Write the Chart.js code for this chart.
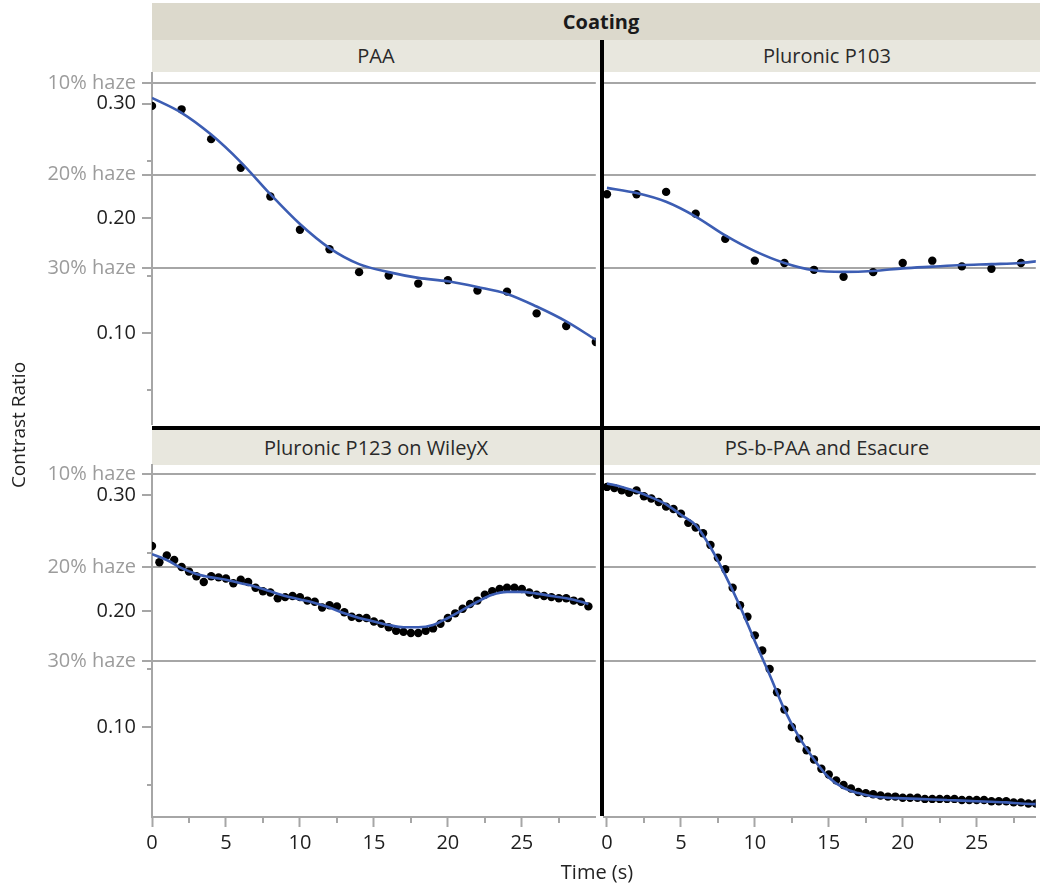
<!DOCTYPE html>
<html>
<head>
<meta charset="utf-8">
<script src="https://cdn.jsdelivr.net/npm/chart.js@4.4.1/dist/chart.umd.min.js"></script>
<style>
  body { margin: 0; background: #fff; font-family: 'Open Sans', sans-serif; color: #222; }
  #wrap { position: relative; width: 1040px; height: 888px; overflow: hidden; }
  .band { position: absolute; text-align: center; font-size: 20px; color: #2a2a2a; }
  .abs { position: absolute; }
  canvas { position: absolute; }
</style>
</head>
<body>
<div id="wrap">
  <div class="band" style="left:152px;top:3px;width:898px;height:37px;line-height:37px;background:#dcd9cc;font-weight:bold;color:#1a1a1a;">Coating</div>
  <div class="band" style="left:152px;top:40px;width:448px;height:32px;line-height:32px;background:#e8e7de;">PAA</div>
  <div class="band" style="left:604px;top:40px;width:446px;height:32px;line-height:32px;background:#e8e7de;">Pluronic P103</div>
  <div class="band" style="left:152px;top:430px;width:448px;height:35px;line-height:35px;background:#e8e7de;">Pluronic P123 on WileyX</div>
  <div class="band" style="left:604px;top:430px;width:446px;height:35px;line-height:35px;background:#e8e7de;">PS-b-PAA and Esacure</div>

  <canvas id="cTL" width="600" height="385" style="left:0;top:43px"></canvas>
  <canvas id="cTR" width="450" height="385" style="left:590px;top:43px"></canvas>
  <canvas id="cBL" width="600" height="427" style="left:0;top:435px"></canvas>
  <canvas id="cBR" width="450" height="427" style="left:590px;top:435px"></canvas>

  <div class="abs" style="left:600px;top:40px;width:4px;height:776px;background:#000"></div>
  <div class="abs" style="left:152px;top:426px;width:888px;height:4px;background:#000"></div>

  <div class="abs" style="left:-62px;top:412px;width:160px;text-align:center;transform:rotate(-90deg);font-size:19px;">Contrast Ratio</div>
  <div class="abs" style="left:497px;top:858px;width:200px;text-align:center;font-size:20px;">Time (s)</div>
</div>

<script>
// tick marks and reference lines
const yMajor = [0.10, 0.20, 0.30];
const yMinor = [0.05, 0.15, 0.25];
const hazeLevels = [0.318, 0.238, 0.1566];
const hazeNames = ["10% haze", "20% haze", "30% haze"];
const xMajor = [0, 5, 10, 15, 20, 25];
const xMinor = [2.5, 7.5, 12.5, 17.5, 22.5, 27.5];

// PAA
const paaTime = [0, 2, 4, 6, 8, 10, 12, 14, 16, 18, 20, 22, 24, 26, 28, 30];
const paaRatio = [0.298, 0.295, 0.269, 0.244, 0.219, 0.190, 0.173, 0.153, 0.150, 0.143, 0.146, 0.137, 0.136, 0.117, 0.106, 0.092];
const paaFit = [0.305, 0.292, 0.273, 0.249, 0.221, 0.195, 0.174, 0.160, 0.153, 0.148, 0.145, 0.140, 0.134, 0.123, 0.110, 0.094];

// Pluronic P103
const p103Time = [0, 2, 4, 6, 8, 10, 12, 14, 16, 18, 20, 22, 24, 26, 28];
const p103Ratio = [0.221, 0.221, 0.223, 0.204, 0.182, 0.163, 0.161, 0.155, 0.149, 0.153, 0.161, 0.163, 0.158, 0.156, 0.161];
const p103FitTime = [0, 2, 4, 6, 8, 10, 12, 14, 16, 18, 20, 22, 24, 26, 28, 30];
const p103Fit = [0.2265, 0.222, 0.2144, 0.2015, 0.185, 0.1713, 0.161, 0.1546, 0.1532, 0.154, 0.1563, 0.1578, 0.1592, 0.160, 0.161, 0.164];

// half-second samples used by the two bottom panels
const halfSecond = [0, 0.5, 1, 1.5, 2, 2.5, 3, 3.5, 4, 4.5, 5, 5.5, 6, 6.5, 7, 7.5, 8, 8.5, 9, 9.5,
  10, 10.5, 11, 11.5, 12, 12.5, 13, 13.5, 14, 14.5, 15, 15.5, 16, 16.5, 17, 17.5, 18, 18.5, 19, 19.5,
  20, 20.5, 21, 21.5, 22, 22.5, 23, 23.5, 24, 24.5, 25, 25.5, 26, 26.5, 27, 27.5, 28, 28.5, 29, 29.5];
const fitTime = [0, 1, 2, 3, 4, 5, 6, 7, 8, 9, 10, 11, 12, 13, 14, 15, 16, 17, 18, 19,
  20, 21, 22, 23, 24, 25, 26, 27, 28, 29, 29.5];

// Pluronic P123 on WileyX
const p123Ratio = [0.256, 0.242, 0.248, 0.244, 0.238, 0.234, 0.230, 0.225, 0.230, 0.229,
  0.228, 0.224, 0.227, 0.225, 0.220, 0.217, 0.216, 0.211, 0.212, 0.213,
  0.212, 0.209, 0.208, 0.203, 0.205, 0.204, 0.199, 0.195, 0.194, 0.194,
  0.191, 0.189, 0.186, 0.183, 0.182, 0.181, 0.181, 0.183, 0.185, 0.189,
  0.194, 0.198, 0.202, 0.206, 0.209, 0.214, 0.217, 0.219, 0.220, 0.220,
  0.219, 0.216, 0.214, 0.213, 0.212, 0.211, 0.211, 0.209, 0.208, 0.204];
const p123Fit = [0.249, 0.244, 0.237, 0.232, 0.229, 0.227, 0.224, 0.221, 0.217, 0.213,
  0.210, 0.207, 0.203, 0.198, 0.194, 0.191, 0.188, 0.186, 0.186, 0.188,
  0.194, 0.201, 0.208, 0.214, 0.2165, 0.2165, 0.215, 0.213, 0.211, 0.208, 0.206];

// PS-b-PAA and Esacure
const psRatio = [0.307, 0.306, 0.304, 0.302, 0.304, 0.299, 0.297, 0.294, 0.290, 0.288,
  0.284, 0.276, 0.272, 0.267, 0.257, 0.246, 0.236, 0.220, 0.205, 0.195,
  0.179, 0.166, 0.150, 0.130, 0.115, 0.100, 0.090, 0.080, 0.072, 0.064,
  0.059, 0.054, 0.050, 0.047, 0.044, 0.043, 0.042, 0.041, 0.040, 0.040,
  0.039, 0.039, 0.039, 0.038, 0.038, 0.038, 0.038, 0.038, 0.037, 0.037,
  0.037, 0.037, 0.036, 0.036, 0.036, 0.035, 0.035, 0.034, 0.034];
const psFit = [0.310, 0.307, 0.303, 0.298, 0.292, 0.283, 0.274, 0.255, 0.231, 0.204,
  0.174, 0.145, 0.115, 0.091, 0.072, 0.0565, 0.0475, 0.043, 0.040, 0.039,
  0.0385, 0.038, 0.0375, 0.037, 0.0365, 0.036, 0.0355, 0.035, 0.034, 0.0335];

const FONT = "'Open Sans', sans-serif";
const GRAY = '#a6a6a6';
const HAZE_TEXT = '#9c9c9c';
const INK = '#1e1e1e';
const BLUE = '#3c5db3';

Chart.defaults.font.family = FONT;

const pairs = (xs, ys) => ys.map((y, i) => ({ x: xs[i], y: y }));
const hazeIndex = v => hazeLevels.findIndex(h => Math.abs(h - v) < 1e-6);

const minorTicks = {
  id: 'minorTicks',
  afterDraw(chart, args, opts) {
    const ctx = chart.ctx;
    ctx.save();
    ctx.strokeStyle = GRAY;
    ctx.lineWidth = 2;
    if (opts.y) {
      const s = chart.scales.y;
      yMinor.forEach(v => {
        const p = Math.round(s.getPixelForValue(v));
        ctx.beginPath(); ctx.moveTo(s.right - 5, p); ctx.lineTo(s.right, p); ctx.stroke();
      });
    }
    if (opts.x) {
      const s = chart.scales.x;
      xMinor.forEach(v => {
        const p = Math.round(s.getPixelForValue(v));
        ctx.beginPath(); ctx.moveTo(p, s.top); ctx.lineTo(p, s.top + 6); ctx.stroke();
      });
    }
    ctx.restore();
  }
};

function makePanel(id, points, fit, xRange, yRange, leftAxis, bottomAxis) {
  const yTicks = yMajor.concat(hazeLevels).sort((a, b) => a - b);
  new Chart(document.getElementById(id), {
    type: 'scatter',
    data: {
      datasets: [
        { data: fit, showLine: true, pointRadius: 0, borderColor: BLUE, borderWidth: 2.6,
          cubicInterpolationMode: 'monotone', order: 0, clip: 0 },
        { data: points, pointRadius: 4.2, pointBackgroundColor: '#000', pointBorderColor: '#000',
          pointBorderWidth: 0, order: 1, clip: 0 }
      ]
    },
    options: {
      responsive: false,
      animation: false,
      devicePixelRatio: 1,
      layout: { padding: { top: 30, left: 0, right: 0, bottom: 0 } },
      plugins: {
        legend: { display: false },
        tooltip: { enabled: false },
        minorTicks: { x: bottomAxis, y: leftAxis }
      },
      scales: {
        x: {
          type: 'linear', min: xRange[0], max: xRange[1], display: bottomAxis,
          afterFit: s => { s.height = bottomAxis ? 45 : 0; s.paddingLeft = 0; s.paddingRight = 0; },
          afterBuildTicks: s => { s.ticks = xMajor.map(v => ({ value: v })); },
          ticks: { autoSkip: false, maxRotation: 0, padding: 4, color: INK,
                   font: { family: FONT, size: 20 }, callback: v => String(v) },
          grid: { drawOnChartArea: false, tickLength: 10, tickColor: GRAY, tickWidth: 2 },
          border: { color: GRAY, width: 2 }
        },
        y: {
          type: 'linear', min: yRange[0], max: yRange[1],
          afterFit: s => { s.width = leftAxis ? 152 : 14; s.paddingTop = 0; s.paddingBottom = 0; },
          afterBuildTicks: s => { s.ticks = yTicks.map(v => ({ value: v })); },
          ticks: {
            display: leftAxis, autoSkip: false, padding: 6,
            font: { family: FONT, size: 20 },
            color: c => (c.tick && hazeIndex(c.tick.value) >= 0) ? HAZE_TEXT : INK,
            callback: v => { const i = hazeIndex(v); return i >= 0 ? hazeNames[i] : v.toFixed(2); }
          },
          grid: {
            color: c => (c.tick && hazeIndex(c.tick.value) >= 0) ? GRAY : 'rgba(0,0,0,0)',
            lineWidth: 2, drawTicks: leftAxis, tickLength: 10, tickColor: GRAY, tickWidth: 2
          },
          border: { display: leftAxis, color: GRAY, width: 2 }
        }
      }
    },
    plugins: [minorTicks]
  });
}

const topY = [0.0207, 0.3267];
const bottomY = [0.0224, 0.3259];
const leftX = [0, 30];
const rightX = [-0.2, 29.0];

makePanel('cTL', pairs(paaTime, paaRatio), pairs(paaTime, paaFit), leftX, topY, true, false);
makePanel('cTR', pairs(p103Time, p103Ratio), pairs(p103FitTime, p103Fit), rightX, topY, false, false);
makePanel('cBL', pairs(halfSecond, p123Ratio), pairs(fitTime, p123Fit), leftX, bottomY, true, true);
makePanel('cBR', pairs(halfSecond, psRatio), pairs(fitTime, psFit), rightX, bottomY, false, true);
</script>
</body>
</html>
